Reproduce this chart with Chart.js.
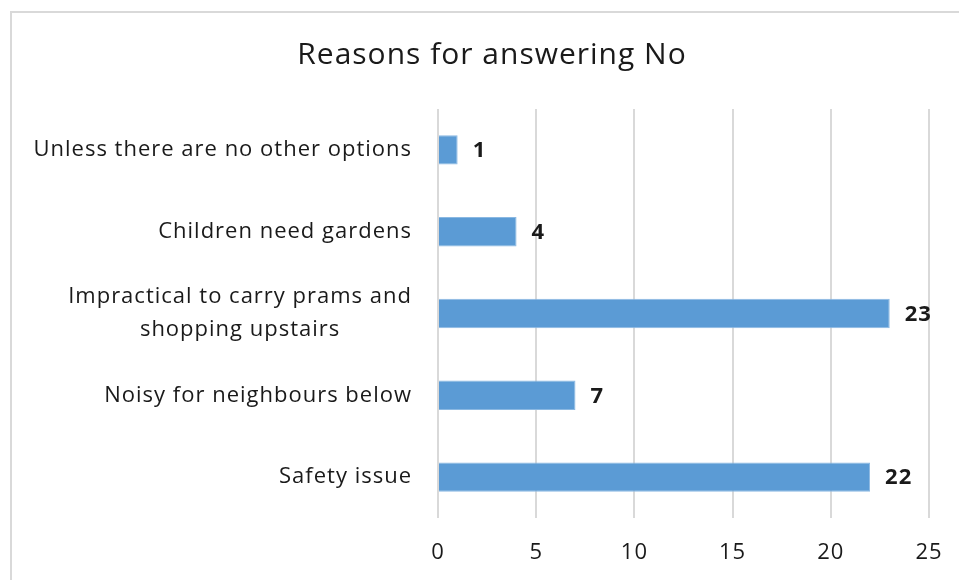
<!DOCTYPE html>
<html>
<head>
<meta charset="utf-8">
<script src="https://cdn.jsdelivr.net/npm/chart.js@4/dist/chart.umd.min.js"></script>
<style>
  html, body { margin: 0; padding: 0; background: #fff; overflow: hidden; }
  #frame {
    position: absolute; left: 10px; top: 11px; width: 990px; height: 620px;
    border: 2px solid #d9d9d9; box-sizing: border-box;
  }
  #chart { position: absolute; left: 12px; top: 12px; }
</style>
</head>
<body>
<div id="frame"></div>
<canvas id="chart" width="964" height="568"></canvas>
<script>
const reasons = [
  ["Unless there are no other options"],
  ["Children need gardens"],
  ["Impractical to carry prams and", "shopping upstairs"],
  ["Noisy for neighbours below"],
  ["Safety issue"]
];
const answers = [1, 4, 23, 7, 22];
const xTicks = [0, 5, 10, 15, 20, 25];

const FONT = "'Open Sans', 'DejaVu Sans', sans-serif";
const TEXT = '#1a1a1a';
const SPACING = '1px';

// slightly open letter spacing for every text drawn on the canvas
const spacing = {
  id: 'spacing',
  beforeDraw(chart) { chart.ctx.letterSpacing = SPACING; }
};

// category labels: single lines sit right-aligned against the axis,
// wrapped ones are centred on their own block
const categoryLabels = {
  id: 'categoryLabels',
  afterDraw(chart) {
    const ctx = chart.ctx;
    const y = chart.scales.y;
    const right = chart.chartArea.left - 26;
    const lineGap = 33;
    ctx.save();
    ctx.letterSpacing = SPACING;
    ctx.font = '22px ' + FONT;
    ctx.fillStyle = TEXT;
    ctx.textBaseline = 'middle';
    reasons.forEach((lines, i) => {
      const cy = y.getPixelForTick(i);
      if (lines.length === 1) {
        ctx.textAlign = 'right';
        ctx.fillText(lines[0], right, cy);
      } else {
        const w = Math.max(...lines.map(l => ctx.measureText(l).width));
        const cx = right - w / 2;
        ctx.textAlign = 'center';
        lines.forEach((l, k) => {
          ctx.fillText(l, cx, cy + (k - (lines.length - 1) / 2) * lineGap);
        });
      }
    });
    ctx.restore();
  }
};

// bold count after the end of each bar
const valueLabels = {
  id: 'valueLabels',
  afterDatasetsDraw(chart) {
    const ctx = chart.ctx;
    const meta = chart.getDatasetMeta(0);
    ctx.save();
    ctx.letterSpacing = SPACING;
    ctx.font = 'bold 22px ' + FONT;
    ctx.fillStyle = TEXT;
    ctx.textAlign = 'left';
    ctx.textBaseline = 'middle';
    meta.data.forEach((bar, i) => {
      ctx.fillText(String(answers[i]), bar.x + 15, bar.y + 1);
    });
    ctx.restore();
  }
};

new Chart(document.getElementById('chart'), {
  type: 'bar',
  data: {
    labels: reasons.map(l => l.join(' ')),
    datasets: [{
      data: answers,
      backgroundColor: '#5b9bd5',
      borderColor: '#8ab8e2',
      borderWidth: 1,
      borderSkipped: 'start',
      categoryPercentage: 1,
      barPercentage: 0.36
    }]
  },
  options: {
    indexAxis: 'y',
    responsive: false,
    animation: false,
    layout: { padding: { left: 43, right: 47, top: 0, bottom: 12 } },
    plugins: {
      legend: { display: false },
      tooltip: { enabled: false },
      title: {
        display: true,
        text: 'Reasons for answering No',
        color: TEXT,
        font: { family: FONT, size: 30, weight: 'normal' },
        padding: { top: 25, bottom: 36 }
      }
    },
    scales: {
      x: {
        min: 0,
        max: 25,
        afterBuildTicks: s => { s.ticks = xTicks.map(v => ({ value: v })); },
        afterFit: s => { s.height = 50; },
        grid: { color: '#d9d9d9', lineWidth: 2, drawTicks: false },
        border: { display: false },
        ticks: { color: TEXT, padding: 22, font: { family: FONT, size: 22 } }
      },
      y: {
        grid: { display: false },
        border: { display: false },
        ticks: { display: false },
        afterFit: s => { s.width = 383; }
      }
    }
  },
  plugins: [spacing, categoryLabels, valueLabels]
});
</script>
</body>
</html>
